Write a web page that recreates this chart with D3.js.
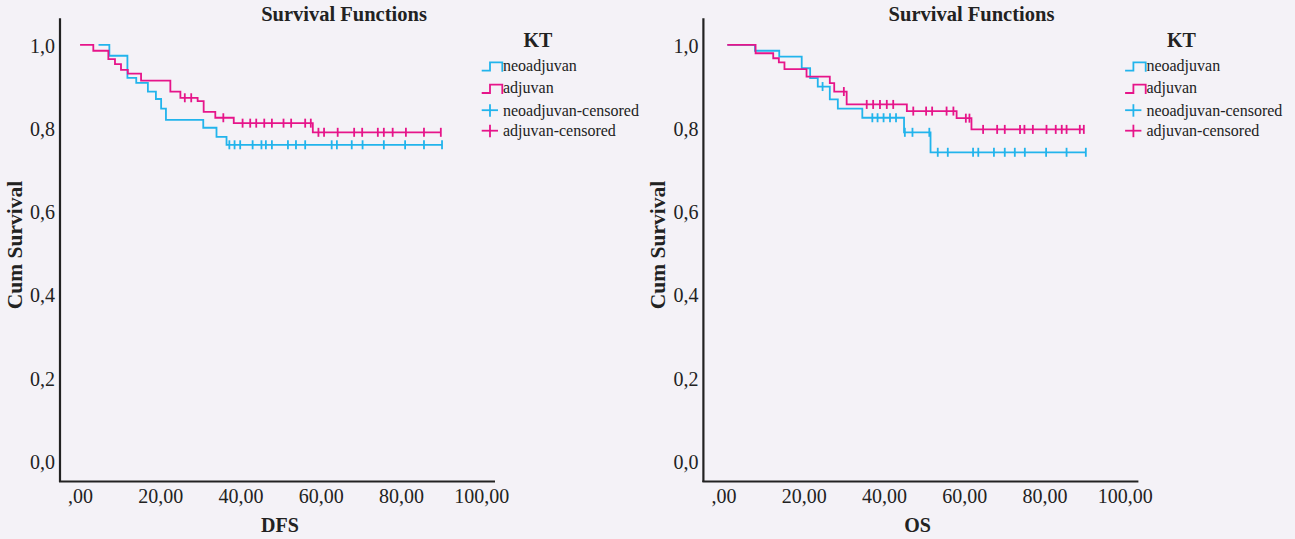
<!DOCTYPE html>
<html>
<head>
<meta charset="utf-8">
<script src="https://cdn.jsdelivr.net/npm/d3@7"></script>
<style>
  html, body { margin: 0; padding: 0; background: #f4f2f7; }
  svg { display: block; }
  text { font-family: "Liberation Serif", "Times New Roman", serif; fill: #222; }
</style>
</head>
<body>
<svg id="chart" width="1295" height="539"></svg>
<script>
// ---------- DATA ----------
const xTickValues = [0, 20, 40, 60, 80, 100];
const xTickLabels = [",00", "20,00", "40,00", "60,00", "80,00", "100,00"];
const yTickValues = [0, 0.2, 0.4, 0.6, 0.8, 1.0];
const yTickLabels = ["0,0", "0,2", "0,4", "0,6", "0,8", "1,0"];
const legendTitle = "KT";
const legendLabels = ["neoadjuvan", "adjuvan", "neoadjuvan-censored", "adjuvan-censored"];
const chartTitles = ["Survival Functions", "Survival Functions"];
const xAxisTitles = ["DFS", "OS"];
const yAxisTitle = "Cum Survival";

// DFS - neoadjuvan
const dfsNeoStart = 4.6;
const dfsNeoTimes = [7.3, 11.8, 14.0, 16.9, 18.9, 20.2, 21.4, 30.7, 34.0, 36.5];
const dfsNeoSurv  = [0.974, 0.921, 0.909, 0.888, 0.870, 0.847, 0.820, 0.801, 0.779, 0.760];
const dfsNeoCensored = [37.2, 38.5, 39.9, 43.0, 45.2, 46.3, 47.8, 51.8, 53.8, 56.1, 62.7, 64.0, 67.7, 70.4, 75.7, 81.0, 85.7, 90.2];

// DFS - adjuvan
const dfsAdjStart = 0;
const dfsAdjTimes = [3.3, 7.05, 8.7, 10.2, 11.9, 15.2, 22.5, 25.0, 29.3, 30.8, 33.7, 38.3, 58.0];
const dfsAdjSurv  = [0.986, 0.966, 0.954, 0.940, 0.931, 0.914, 0.888, 0.873, 0.865, 0.839, 0.825, 0.812, 0.790];
const dfsAdjCensored = [26.1, 27.7, 35.7, 40.5, 42.4, 43.9, 45.9, 47.8, 50.7, 52.6, 56.1, 57.5, 59.4, 60.8, 64.2, 68.3, 70.3, 74.2, 75.7, 77.9, 81.2, 85.7, 89.9];

// OS - neoadjuvan
const osNeoStart = 1.0;
const osNeoTimes = [7.85, 13.9, 19.5, 21.6, 23.5, 26.5, 28.5, 34.6, 45.0, 51.6];
const osNeoSurv  = [0.986, 0.972, 0.944, 0.920, 0.900, 0.869, 0.847, 0.825, 0.790, 0.742];
const osNeoCensored = [24.7, 37.1, 38.4, 39.9, 41.5, 43.0, 45.2, 47.1, 51.3, 53.4, 55.9, 62.2, 63.5, 67.4, 70.1, 72.6, 75.1, 80.4, 85.5, 90.3];

// OS - adjuvan
const osAdjStart = 0.95;
const osAdjTimes = [8.0, 12.4, 13.8, 15.2, 20.7, 26.5, 27.6, 30.7, 45.7, 58.1, 61.8];
const osAdjSurv  = [0.980, 0.968, 0.958, 0.942, 0.924, 0.908, 0.888, 0.857, 0.841, 0.824, 0.797];
const osAdjCensored = [30.0, 35.7, 37.3, 39.0, 40.7, 42.3, 47.3, 50.5, 52.0, 55.6, 57.3, 60.4, 61.3, 64.7, 68.2, 70.1, 73.9, 75.0, 77.1, 80.5, 82.8, 84.3, 85.5, 88.8, 89.8];

const colors = { neo: "#22b4ec", adj: "#e6158a" };

// ---------- DRAW ----------
const svg = d3.select("#chart");
svg.append("rect").attr("width", 1295).attr("height", 539).attr("fill", "#f4f2f7");

const panels = [
  { dx: 0, titleX: 344, title: chartTitles[0], xTitle: xAxisTitles[0], xTitleX: 280,
    series: [
      { key: "neo", start: dfsNeoStart, times: dfsNeoTimes, surv: dfsNeoSurv, cens: dfsNeoCensored },
      { key: "adj", start: dfsAdjStart, times: dfsAdjTimes, surv: dfsAdjSurv, cens: dfsAdjCensored }
    ] },
  { dx: 643.4, titleX: 971.5 - 643.4, title: chartTitles[1], xTitle: xAxisTitles[1], xTitleX: 917.5 - 643.4,
    series: [
      { key: "neo", start: osNeoStart, times: osNeoTimes, surv: osNeoSurv, cens: osNeoCensored },
      { key: "adj", start: osAdjStart, times: osAdjTimes, surv: osAdjSurv, cens: osAdjCensored }
    ] }
];

const x = d3.scaleLinear().domain([-5, 103.4]).range([60, 495]);
const y = d3.scaleLinear().domain([-0.048, 1.064]).range([481, 18.3]);

function survAt(times, surv, t) {
  let s = 1;
  for (let i = 0; i < times.length; i++) if (times[i] <= t + 1e-9) s = surv[i];
  return s;
}

const line = d3.line().x(d => x(d[0])).y(d => y(d[1])).curve(d3.curveStepAfter);

panels.forEach(p => {
  const g = svg.append("g").attr("transform", `translate(${p.dx},0)`);

  // title
  g.append("text").attr("x", p.titleX).attr("y", 21).attr("text-anchor", "middle")
    .attr("font-size", 20.5).attr("font-weight", "bold").text(p.title);

  // y tick labels
  const yAxis = d3.axisLeft(y).tickValues(yTickValues).tickSize(0).tickPadding(5)
    .tickFormat((d, i) => yTickLabels[i]);
  const ya = g.append("g").attr("transform", `translate(60,0)`).call(yAxis);
  ya.select(".domain").remove();
  ya.selectAll("text").attr("font-size", 20).attr("fill", "#222")
    .attr("font-family", "Liberation Serif, serif").attr("dy", "0.36em");

  // x tick labels
  const xAxis = d3.axisBottom(x).tickValues(xTickValues).tickSize(0).tickPadding(0)
    .tickFormat((d, i) => xTickLabels[i]);
  const xa = g.append("g").attr("transform", `translate(0,481)`).call(xAxis);
  xa.select(".domain").remove();
  xa.selectAll("text").attr("font-size", 20).attr("fill", "#222")
    .attr("font-family", "Liberation Serif, serif").attr("dy", null).attr("y", 22);

  // axis lines
  g.append("line").attr("x1", 60).attr("x2", 60).attr("y1", 18.3).attr("y2", 482)
    .attr("stroke", "#222").attr("stroke-width", 2.2);
  g.append("line").attr("x1", 59).attr("x2", 495).attr("y1", 481.5).attr("y2", 481.5)
    .attr("stroke", "#222").attr("stroke-width", 2.2);

  // axis titles
  g.append("text").attr("x", p.xTitleX).attr("y", 532).attr("text-anchor", "middle")
    .attr("font-size", 20).attr("font-weight", "bold").text(p.xTitle);
  g.append("text").attr("transform", `translate(22,245) rotate(-90)`).attr("text-anchor", "middle")
    .attr("font-size", 21.5).attr("font-weight", "bold").text(yAxisTitle);

  // curves
  p.series.forEach(s => {
    const end = s.cens[s.cens.length - 1];
    const pts = [[s.start, 1]];
    s.times.forEach((t, i) => pts.push([t, s.surv[i]]));
    pts.push([end, s.surv[s.surv.length - 1]]);
    g.append("path").attr("d", line(pts)).attr("fill", "none")
      .attr("stroke", colors[s.key]).attr("stroke-width", 1.8);
    g.selectAll(null).data(s.cens).enter().append("line")
      .attr("x1", d => x(d)).attr("x2", d => x(d))
      .attr("y1", d => y(survAt(s.times, s.surv, d)) - 4.5)
      .attr("y2", d => y(survAt(s.times, s.surv, d)) + 4.5)
      .attr("stroke", colors[s.key]).attr("stroke-width", 1.8);
  });

  // legend
  const lg = g.append("g");
  lg.append("text").attr("x", 538).attr("y", 47).attr("text-anchor", "middle")
    .attr("font-size", 20).attr("font-weight", "bold").text(legendTitle);
  const base = [71, 93.3, 115.5, 136];
  const keys = ["neo", "adj", "neo", "adj"];
  legendLabels.forEach((lab, i) => {
    const b = base[i];
    const c = colors[keys[i]];
    if (i < 2) {
      lg.append("path")
        .attr("d", `M481.7,${b - 0.3} H490 V${b - 8.7} H502.3 V${b + 0.7}`)
        .attr("fill", "none").attr("stroke", c).attr("stroke-width", 1.8);
    } else {
      const cy = b - 5.3;
      lg.append("line").attr("x1", 481.7).attr("x2", 498).attr("y1", cy).attr("y2", cy)
        .attr("stroke", c).attr("stroke-width", 1.8);
      lg.append("line").attr("x1", 490).attr("x2", 490).attr("y1", cy - 6).attr("y2", cy + 6.5)
        .attr("stroke", c).attr("stroke-width", 1.8);
    }
    lg.append("text").attr("x", 503).attr("y", b).attr("font-size", 16).text(lab);
  });
});
</script>
</body>
</html>
